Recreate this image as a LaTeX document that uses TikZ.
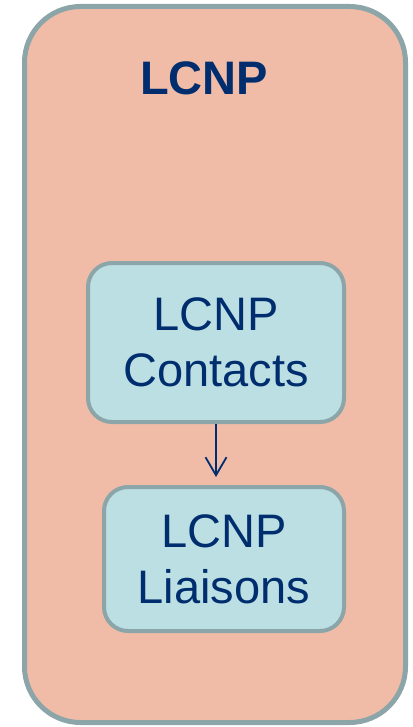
\documentclass[tikz,border=0pt]{standalone}
\usepackage{fontspec}
\setmainfont{Liberation Sans}
\usetikzlibrary{arrows.meta}
\definecolor{salmon}{RGB}{240,188,167}
\definecolor{bordergray}{RGB}{140,165,168}
\definecolor{lightblue}{RGB}{187,223,227}
\definecolor{navy}{RGB}{0,45,110}
\begin{document}
\begin{tikzpicture}[x=1pt,y=-1pt,
  outerbox/.style={draw=bordergray,fill=salmon,line width=5pt,rounded corners=56pt,inner sep=0pt},
  innerbox/.style={draw=bordergray,fill=lightblue,line width=4pt,rounded corners=24pt,align=center,
    text=navy,font=\fontsize{47}{56}\selectfont,inner sep=0pt},
  conn/.style={draw=navy,line width=1.8pt,-{Straight Barb[length=18pt,width=21pt,line width=1.8pt]}}]
\useasboundingbox (0,0) rectangle (412,727);
\node[outerbox,minimum width=381pt,minimum height=716pt] (outer) at (215,364.5) {};
\node[anchor=base,text=navy,font=\bfseries\fontsize{47}{56}\selectfont] (title) at (204,95) {LCNP};
\node[innerbox,minimum width=256pt,minimum height=159pt] (c1) at (216,342.5) {LCNP\\Contacts};
\node[innerbox,minimum width=240pt,minimum height=144pt] (c2) at (224,559) {LCNP\\Liaisons};
\coordinate (tip) at (216,477);
\draw[conn] (c1.south) -- (tip);
\end{tikzpicture}
\end{document}
